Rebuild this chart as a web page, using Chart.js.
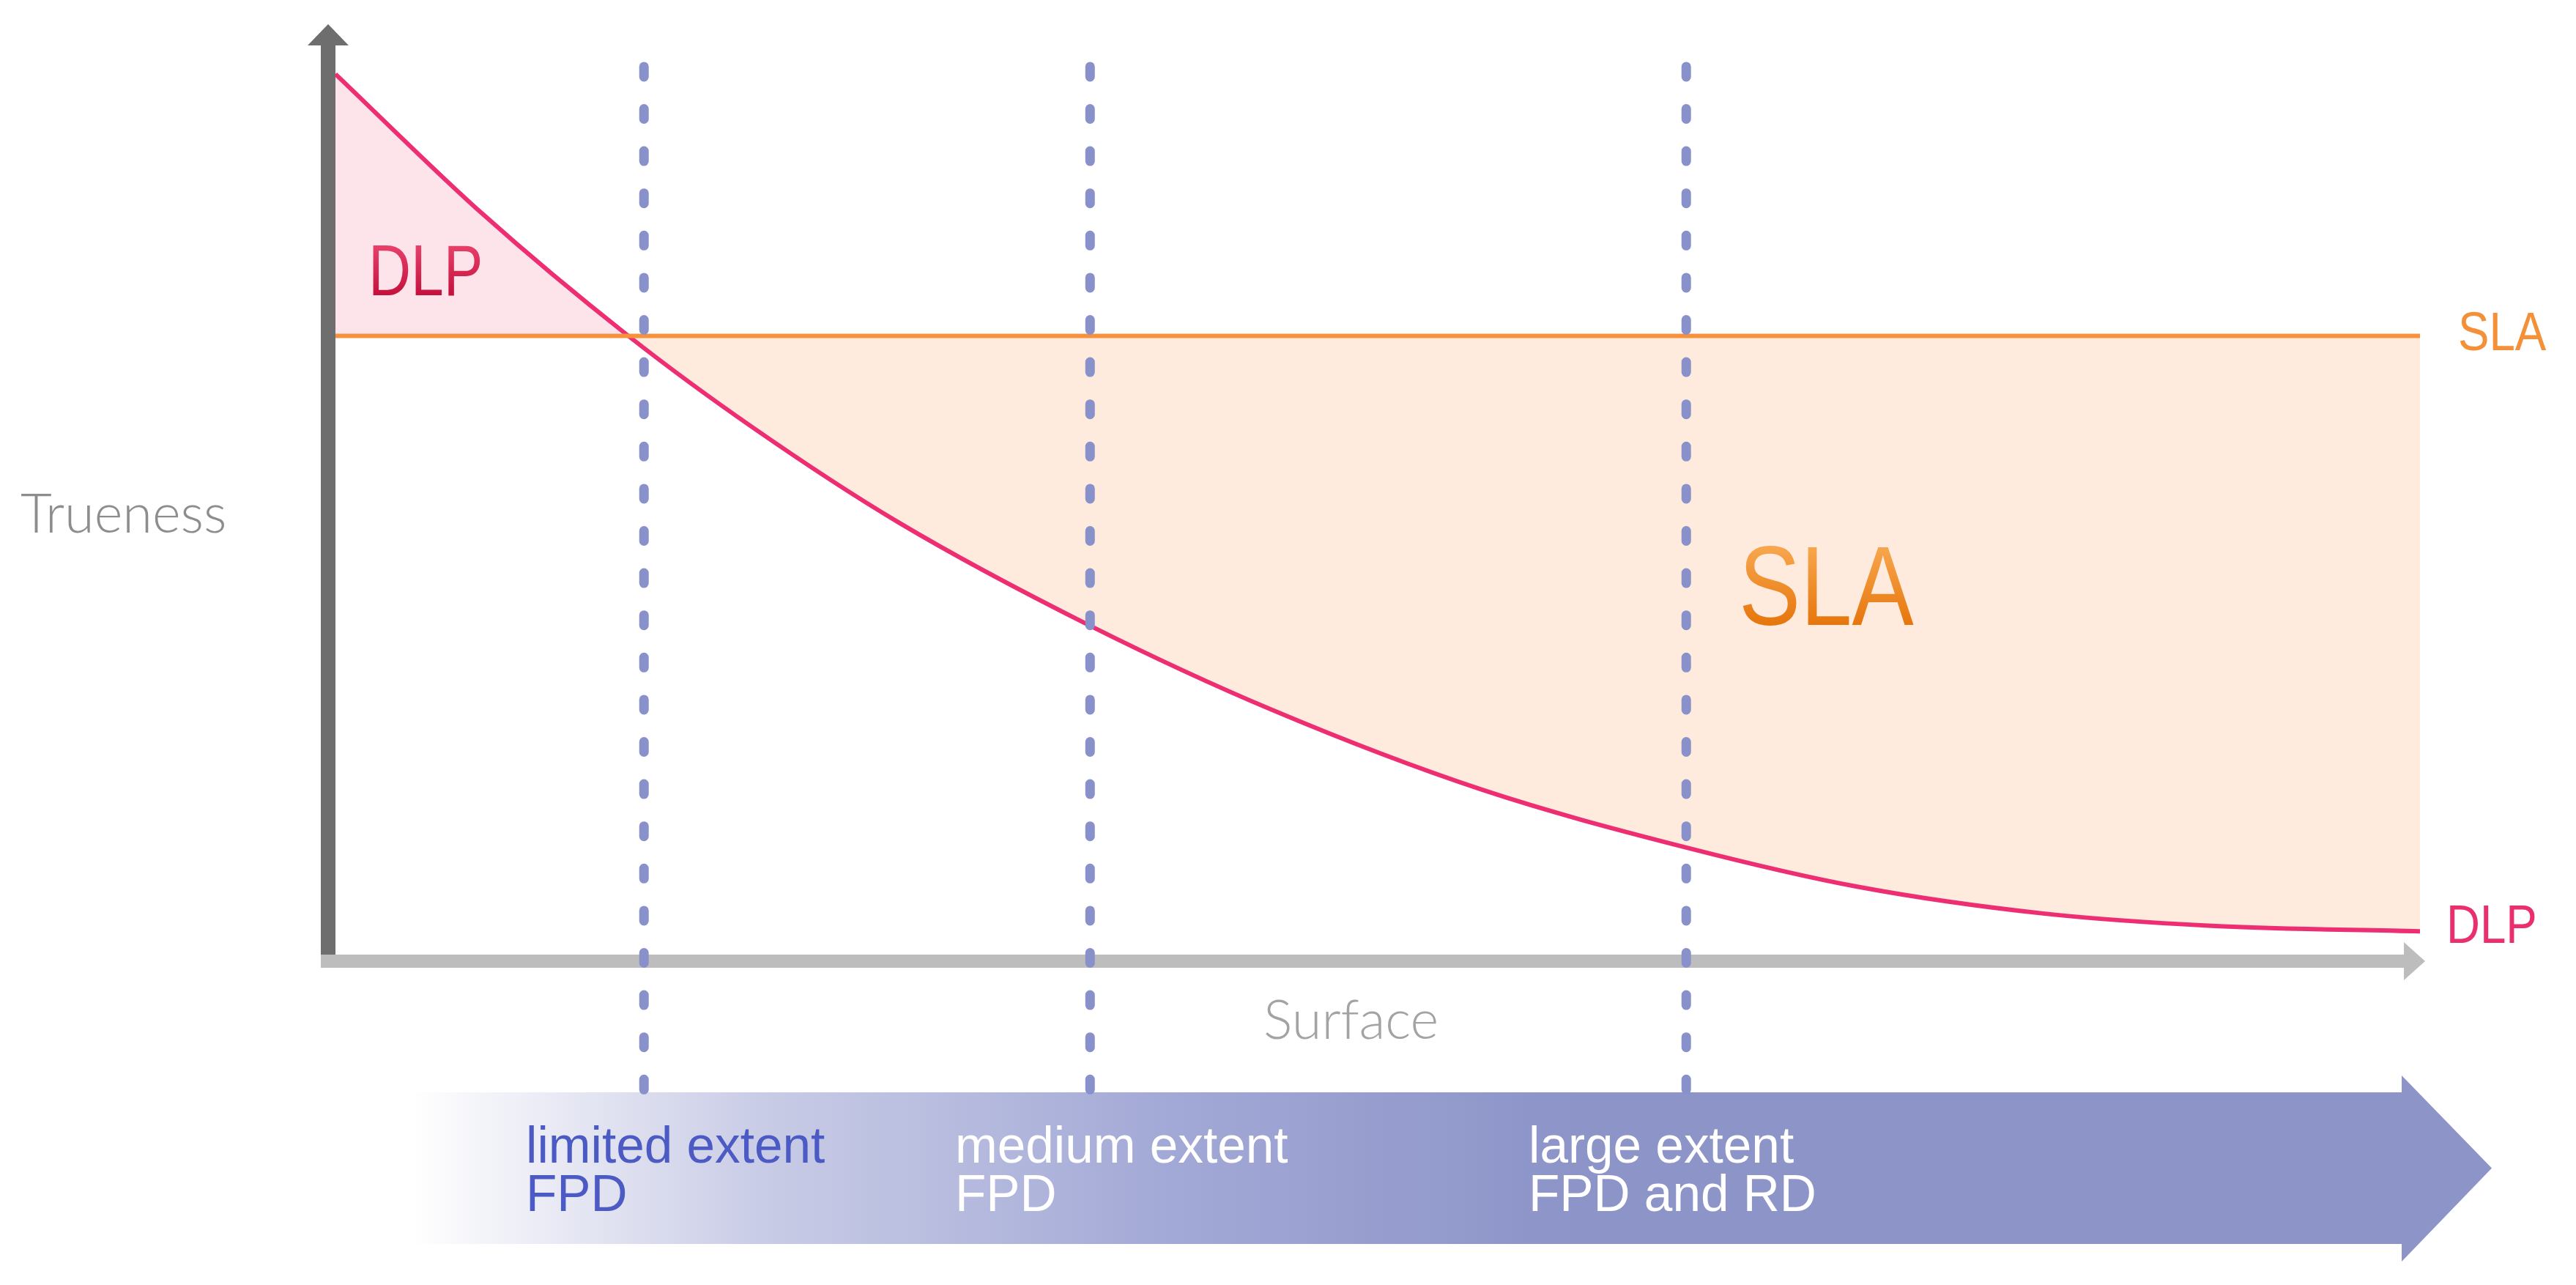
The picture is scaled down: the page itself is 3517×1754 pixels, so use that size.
<!DOCTYPE html>
<html>
<head>
<meta charset="utf-8" />
<title>Trueness vs Surface</title>
<script src="https://cdn.jsdelivr.net/npm/chart.js@4.4.0/dist/chart.umd.min.js"></script>
<style>
  html, body { margin: 0; padding: 0; background: #fff; }
  #wrap { width: 3517px; height: 1754px; }
</style>
</head>
<body>
<div id="wrap"><canvas id="chart" width="3517" height="1754"></canvas></div>
<script>
// surface (0-100) against trueness (0-100)
const surfaceX     = [0, 7, 14.05, 20, 27, 36.2, 45, 55, 64.8, 73, 82, 90, 100];
const dlpTrueness  = [95.2, 80.3, 67.1, 57.3, 47.1, 36.0, 26.9, 18.4, 12.2, 8.0, 5.1, 3.8, 3.2];
const slaTrueness  = 67.1;
const extentBounds = [14.8, 36.2, 64.8];
const extentSpan   = [96.0, -14.3];   // dashed guides: top of plot down to the extent arrow
const extentLabels = [['limited extent', 'FPD'], ['medium extent', 'FPD'], ['large extent', 'FPD and RD']];

const SANS = '"Liberation Sans", Arial, sans-serif';

const dlpPoints = surfaceX.map((x, i) => ({ x: x, y: dlpTrueness[i] }));
const slaPoints = [{ x: surfaceX[0], y: slaTrueness }, { x: surfaceX[surfaceX.length - 1], y: slaTrueness }];

const guides = extentBounds.map((b, i) => ({
    label: 'bound ' + (i + 1),
    data: [{ x: b, y: extentSpan[0] }, { x: b, y: extentSpan[1] }],
    borderColor: '#8991cb',
    borderWidth: 13,
    borderDash: [14, 43.6],
    borderCapStyle: 'round',
    pointRadius: 0,
    fill: false,
    clip: false,
    order: 0
}));

// narrow-ish text: regular sans squeezed horizontally
function narrowText(ctx, text, x, y, size, fill, sx) {
    ctx.save();
    ctx.translate(x, y);
    ctx.scale(sx || 0.82, 1);
    ctx.font = size + 'px ' + SANS;
    ctx.fillStyle = typeof fill === 'function' ? fill(ctx, size) : fill;
    ctx.fillText(text, 0, 0);
    ctx.restore();
}

function bevel(top, bottom) {
    return (ctx, size) => {
        const g = ctx.createLinearGradient(0, -size * 0.72, 0, 0);
        g.addColorStop(0, top);
        g.addColorStop(1, bottom);
        return g;
    };
}

const decor = {
    id: 'decor',
    beforeDatasetsDraw(chart) {
        const { ctx, scales: { x, y } } = chart;
        const x0 = x.getPixelForValue(0);
        const y0 = y.getPixelForValue(0);
        ctx.save();

        // extent arrow under the plot
        const bTop = 1491, bBot = 1698, hTop = 1468, hBot = 1722, hX = 3279, tipX = 3402;
        const g = ctx.createLinearGradient(560, 0, 2150, 0);
        g.addColorStop(0, '#ffffff');
        g.addColorStop(0.3, '#c9cce6');
        g.addColorStop(0.65, '#a3a9d6');
        g.addColorStop(1, '#8c94c8');
        ctx.fillStyle = g;
        ctx.beginPath();
        ctx.moveTo(560, bTop);
        ctx.lineTo(hX, bTop);
        ctx.lineTo(hX, hTop);
        ctx.lineTo(tipX, (bTop + bBot) / 2);
        ctx.lineTo(hX, hBot);
        ctx.lineTo(hX, bBot);
        ctx.lineTo(560, bBot);
        ctx.closePath();
        ctx.fill();

        // x axis (light grey) with arrow
        ctx.fillStyle = '#bdbdbd';
        ctx.fillRect(x0 - 20, y0 - 9, 3284 - (x0 - 20), 18);
        ctx.beginPath();
        ctx.moveTo(3282, y0 - 26);
        ctx.lineTo(3311, y0);
        ctx.lineTo(3282, y0 + 26);
        ctx.closePath();
        ctx.fill();

        // y axis (dark grey) with arrow
        ctx.fillStyle = '#6e6e6e';
        ctx.fillRect(x0 - 20, 60, 20, y0 - 9 - 60);
        ctx.beginPath();
        ctx.moveTo(x0 - 38, 62);
        ctx.lineTo(x0 - 10, 33);
        ctx.lineTo(x0 + 18, 62);
        ctx.closePath();
        ctx.fill();
        ctx.restore();
    },
    afterDraw(chart) {
        const { ctx, scales: { x, y } } = chart;
        const right = x.getPixelForValue(100);
        ctx.save();
        ctx.textBaseline = 'alphabetic';
        ctx.textAlign = 'left';

        // axis titles
        ctx.font = '300 74px Lato';
        ctx.fillStyle = '#8d8d8d';
        ctx.fillText('Trueness', 28, 727);
        ctx.fillStyle = '#a3a3a3';
        ctx.fillText('Surface', 1725, 1418);

        // end-of-line labels
        narrowText(ctx, 'SLA', right + 52, y.getPixelForValue(slaTrueness) + 20, 74, '#f39038', 0.86);
        narrowText(ctx, 'DLP', right + 36, y.getPixelForValue(dlpTrueness[dlpTrueness.length - 1]) + 16, 74, '#ea2f6c', 0.86);

        // big area labels
        narrowText(ctx, 'DLP', 503, 403, 98, bevel('#e8426c', '#c4103c'));
        narrowText(ctx, 'SLA', 2374, 853, 154, bevel('#f8a850', '#e6760c'));

        // extent labels inside the arrow
        const lx = [718, 1304, 2087];
        const lc = ['#4c5ac4', '#ffffff', '#ffffff'];
        extentLabels.forEach((lines, i) => {
            narrowText(ctx, lines[0], lx[i], 1587, 70, lc[i], 0.99);
            narrowText(ctx, lines[1], lx[i], 1653, 70, lc[i], 0.99);
        });
        ctx.restore();
    }
};

new Chart(document.getElementById('chart'), {
    type: 'line',
    data: {
        datasets: [
            {
                label: 'DLP',
                data: dlpPoints,
                borderColor: '#ee2e72',
                borderWidth: 6,
                pointRadius: 0,
                cubicInterpolationMode: 'monotone',
                fill: { target: 1, above: '#fde3ea', below: '#feebde' },
                order: 2
            },
            {
                label: 'SLA',
                data: slaPoints,
                borderColor: '#f7913d',
                borderWidth: 6,
                pointRadius: 0,
                fill: false,
                order: 1
            },
            ...guides
        ]
    },
    options: {
        responsive: false,
        animation: false,
        devicePixelRatio: 1,
        events: [],
        layout: { padding: { left: 458, right: 213, top: 40, bottom: 442 } },
        scales: {
            x: { type: 'linear', min: 0, max: 100, display: false },
            y: { type: 'linear', min: 0, max: 100, display: false }
        },
        plugins: {
            legend: { display: false },
            tooltip: { enabled: false }
        }
    },
    plugins: [decor]
});
</script>
</body>
</html>
